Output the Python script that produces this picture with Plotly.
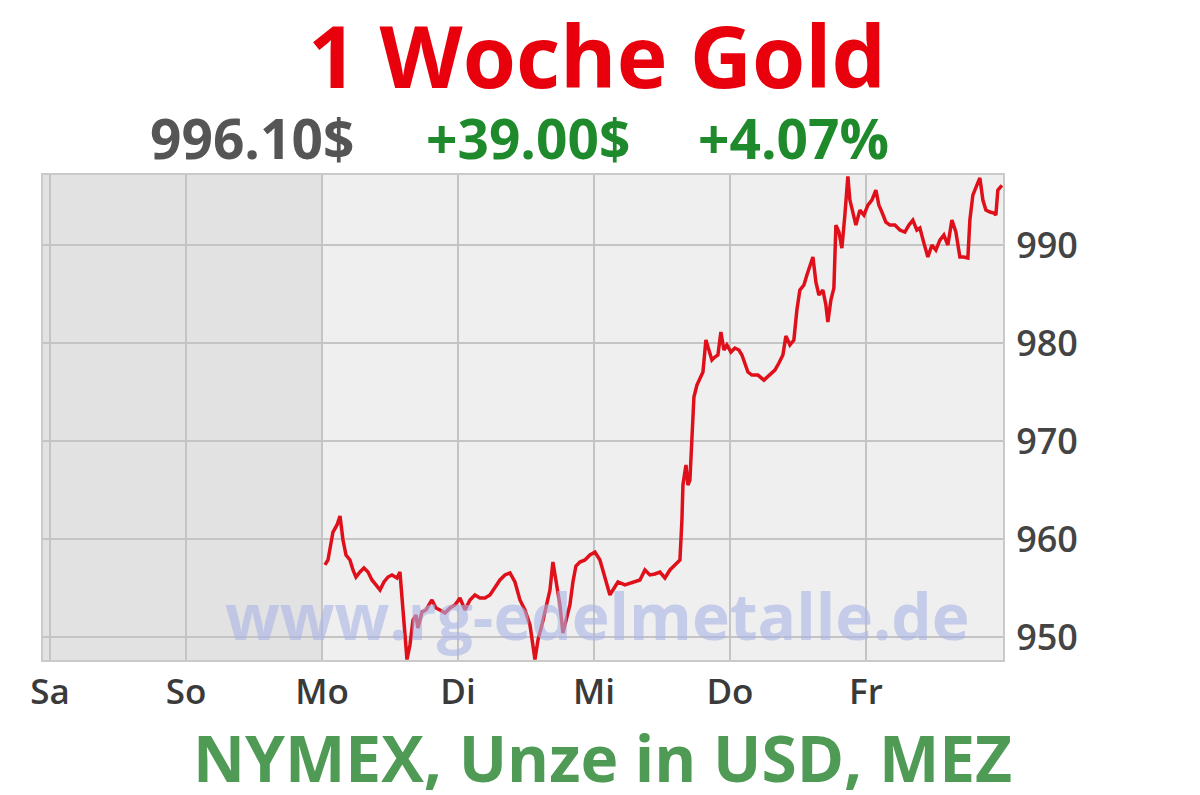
import plotly.graph_objects as go

# hours since Saturday 00:00
hours = [
    48.53, 49.06, 49.94, 50.65, 51.18, 51.71, 52.24, 52.94, 53.47, 54.00,
    54.71, 55.41, 56.12, 56.82, 57.53, 58.24, 58.94, 59.65, 60.35, 61.24,
    61.76, 62.12, 62.47, 63.00, 63.53, 64.06, 64.59, 64.94, 65.65, 66.35,
    67.41, 68.12, 68.82, 69.71, 70.59, 71.47, 72.35, 73.24, 74.12, 75.00,
    75.88, 76.76, 77.65, 78.53, 79.41, 80.29, 81.18, 82.06, 82.94, 83.82,
    84.71, 85.59, 86.12, 86.82, 87.53, 88.24, 88.76, 89.29, 90.00, 90.53,
    91.24, 91.76, 92.29, 92.82, 93.53, 94.41, 95.29, 96.18, 97.06, 97.94,
    98.82, 99.35, 100.24, 101.47, 102.71, 104.12, 105.00, 105.88, 106.76, 107.65,
    108.53, 109.41, 110.29, 111.18, 111.53, 111.71, 112.24, 112.59, 112.94, 113.29,
    113.65, 114.18, 114.71, 115.24, 115.76, 116.29, 116.82, 117.35, 117.88, 118.41,
    118.94, 119.47, 120.18, 120.88, 121.59, 122.12, 122.65, 123.18, 123.88, 124.94,
    126.00, 127.06, 127.94, 128.65, 129.35, 129.88, 130.59, 131.29, 131.82, 132.35,
    133.06, 133.59, 134.12, 134.65, 135.18, 135.71, 136.41, 136.94, 137.29, 137.82,
    138.35, 138.71, 139.24, 139.76, 140.29, 140.82, 141.18, 141.53, 142.24, 142.94,
    143.65, 144.35, 145.06, 145.76, 146.29, 146.82, 147.53, 148.24, 149.12, 150.00,
    150.88, 151.59, 152.29, 153.00, 153.53, 154.24, 154.94, 155.65, 156.35, 157.06,
    157.76, 158.47, 159.18, 159.88, 160.59, 161.29, 162.00, 162.35, 162.88, 163.59,
    164.12, 164.65, 165.18, 165.88, 166.59, 166.94, 167.29, 168.00,
]

prices = [
    957.35, 957.86, 960.71, 961.43, 962.35, 959.90, 958.37, 957.86, 956.84, 956.12,
    956.63, 957.04, 956.63, 955.82, 955.31, 954.80, 955.61, 956.12, 956.33, 956.02,
    956.63, 953.78, 951.22, 947.70, 949.18, 951.73, 952.24, 950.92, 952.55, 952.76,
    953.78, 952.96, 952.76, 952.45, 952.96, 953.27, 953.98, 952.76, 953.78, 954.29,
    953.98, 953.98, 954.29, 955.00, 955.82, 956.33, 956.53, 955.61, 953.78, 952.76,
    951.22, 947.70, 949.69, 951.22, 952.96, 954.80, 957.65, 955.82, 953.27, 950.41,
    952.24, 953.27, 955.61, 957.24, 957.65, 957.86, 958.37, 958.67, 957.86, 956.02,
    954.29, 954.80, 955.61, 955.31, 955.51, 955.82, 956.84, 956.33, 956.43, 956.63,
    956.02, 956.84, 957.35, 957.86, 961.94, 965.51, 967.55, 965.51, 966.02, 970.10,
    974.49, 975.71, 976.43, 977.04, 980.31, 979.29, 978.27, 978.57, 978.78, 981.12,
    979.29, 979.80, 979.08, 979.49, 979.29, 978.78, 977.76, 977.04, 976.73, 976.73,
    976.22, 976.73, 977.24, 977.96, 978.78, 980.71, 979.80, 980.31, 983.37, 985.41,
    985.92, 986.94, 987.96, 988.78, 986.22, 984.90, 985.41, 983.88, 982.14, 984.39,
    985.61, 992.04, 991.33, 989.69, 993.06, 997.00, 994.59, 993.78, 992.04, 993.57,
    993.06, 994.08, 994.59, 995.61, 994.08, 993.37, 992.35, 992.04, 992.04, 991.53,
    991.33, 992.04, 992.55, 991.53, 991.73, 990.20, 988.78, 990.00, 989.49, 990.51,
    991.02, 990.00, 992.55, 991.33, 988.78, 988.78, 988.67, 992.55, 995.10, 996.12,
    996.84, 994.59, 993.57, 993.37, 993.27, 993.06, 995.61, 996.10,
]

day_ticks = [0, 24, 48, 72, 96, 120, 144]
day_labels = ["Sa", "So", "Mo", "Di", "Mi", "Do", "Fr"]
price_ticks = [950, 960, 970, 980, 990]
price_labels = ["950", "960", "970", "980", "990"]

title_text = "1 Woche Gold"
last_price = "996.10$"
change_abs = "+39.00$"
change_pct = "+4.07%"
footer_text = "NYMEX, Unze in USD, MEZ"
watermark_text = "www.rg-edelmetalle.de"

X_RANGE = [-1.24, 168.2]
Y_RANGE = [947.65, 997.15]

# page body has an 8px margin: build the figure 8px smaller and shift everything
OFF = 8
W, H = 1200 - OFF, 795 - OFF
PL, PR, PT, PB = 43 - OFF, 1003 - OFF, 175 - OFF, 660 - OFF

fig = go.Figure()
fig.add_trace(go.Scatter(
    x=hours, y=prices, mode="lines",
    line=dict(color="#e0101b", width=3.5, shape="linear"),
    showlegend=False, hoverinfo="skip",
))

# weekend shading (Sa + So)
fig.add_shape(type="rect", xref="x", yref="y",
              x0=X_RANGE[0], x1=48, y0=Y_RANGE[0], y1=Y_RANGE[1],
              fillcolor="#e2e2e2", line=dict(width=0), layer="below")

FONT = "Open Sans"

fig.update_layout(
    width=W, height=H,
    margin=dict(l=PL, r=W - PR, t=PT, b=H - PB),
    paper_bgcolor="white",
    plot_bgcolor="#efefef",
    font=dict(family=FONT),
    xaxis=dict(
        range=X_RANGE, tickmode="array", tickvals=day_ticks, ticktext=day_labels,
        showgrid=True, gridcolor="#c4c4c4", gridwidth=2, zeroline=False,
        showline=True, linecolor="#cacaca", linewidth=2, mirror=True,
        ticks="", ticklabelstandoff=0,
        tickfont=dict(family=FONT, size=35, color="#3a3a3a", weight=600),
    ),
    yaxis=dict(
        range=Y_RANGE, side="right", tickmode="array", tickvals=price_ticks,
        ticktext=price_labels,
        showgrid=True, gridcolor="#c4c4c4", gridwidth=2, zeroline=False,
        showline=True, linecolor="#cacaca", linewidth=2, mirror=True,
        ticks="", ticklabelstandoff=4,
        tickfont=dict(family=FONT, size=36, color="#444444", weight=600),
    ),
)


def px_ann(text, cx, cy, size, color, weight=700, opacity=1.0):
    # cx, cy are pixel centres in the 1200x795 screenshot
    cx -= OFF
    cy -= OFF
    xp = (cx - PL) / (PR - PL)
    yp = (PB - cy) / (PB - PT)
    fig.add_annotation(text=text, x=xp, y=yp, xref="paper", yref="paper",
                       xanchor="center", yanchor="middle", showarrow=False,
                       opacity=opacity,
                       font=dict(family=FONT, size=size, color=color, weight=weight))


px_ann(title_text, 597, 54, 86, "#e8000d")
px_ann(last_price, 252, 137, 55, "#555555")
px_ann(change_abs, 528, 137, 55, "#1f8a2c")
px_ann(change_pct, 793, 137, 55, "#1f8a2c")
px_ann(footer_text, 602, 757, 64, "#4f9b56")
px_ann(watermark_text, 597, 615, 64, "#aab5e6", opacity=0.6)

fig.write_html("out.html")
